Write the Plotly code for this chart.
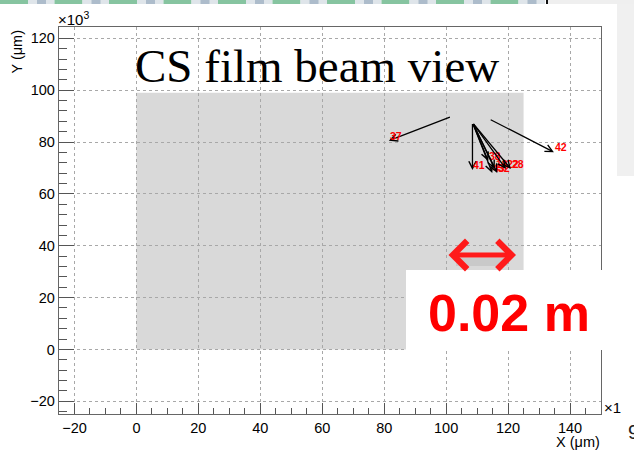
import plotly.graph_objects as go

# ---- data (x, y in units of 10^3 um) ----
x_ticks = [-20, 0, 20, 40, 60, 80, 100, 120, 140]
y_ticks = [-20, 0, 20, 40, 60, 80, 100, 120]

# CS film area
film_x = [0, 125]
film_y = [0, 99]

# track arrows: label, start x, start y, end x, end y
trk_label = ["37", "42", "41", "38", "43", "32", "18", "22", "28"]
trk_x0 = [101.7, 113.9, 108.5, 108.5, 108.5, 108.5, 108.5, 108.5, 108.5]
trk_y0 = [89.8, 88.9, 87.5, 87.5, 87.5, 87.5, 87.5, 87.5, 87.5]
trk_x1 = [81.5, 134.8, 108.5, 113.6, 114.9, 116.5, 115.7, 119.3, 120.9]
trk_y1 = [80.5, 76.1, 69.2, 72.7, 68.1, 68.1, 69.6, 69.6, 69.6]

scale_text = "0.02 m"

W, H = 634, 454
ML, MR, MT, MB = 59, 33, 27, 40
PW, PH = W - ML - MR, H - MT - MB


def px(x):
    return (x - ML) / PW


def py(y):
    return (H - MB - y) / PH


fig = go.Figure()

# invisible trace to set up the axes
fig.add_trace(go.Scatter(x=[film_x[0]], y=[film_y[0]], mode="markers",
                         marker=dict(opacity=0), hoverinfo="skip",
                         showlegend=False))

shapes = []
# film area (under the grid)
shapes.append(dict(type="rect", xref="x", yref="y", x0=film_x[0], x1=film_x[1],
                   y0=film_y[0], y1=film_y[1], fillcolor="#d9d9d9",
                   line=dict(width=0), layer="below"))

# slide decoration strip at the very top
for i in range(10):
    g0 = i * 54.5
    shapes.append(dict(type="rect", xref="paper", yref="paper",
                       x0=px(g0), x1=px(g0 + 28), y0=py(4), y1=py(0),
                       fillcolor="#86c4a0", line=dict(width=0)))
    shapes.append(dict(type="rect", xref="paper", yref="paper",
                       x0=px(g0 + 28), x1=px(g0 + 54.5), y0=py(4), y1=py(0),
                       fillcolor="#dfe5ea", line=dict(width=0)))
    shapes.append(dict(type="rect", xref="paper", yref="paper",
                       x0=px(g0 + 37), x1=px(g0 + 46), y0=py(4), y1=py(0),
                       fillcolor="#adbccb", line=dict(width=0)))
shapes.append(dict(type="rect", xref="paper", yref="paper",
                   x0=px(546), x1=px(548), y0=py(4), y1=py(0),
                   fillcolor="#111111", line=dict(width=0)))
shapes.append(dict(type="rect", xref="paper", yref="paper",
                   x0=px(548), x1=px(634), y0=py(4), y1=py(0),
                   fillcolor="#efefef", line=dict(width=0)))
# light panel at the right edge
shapes.append(dict(type="rect", xref="paper", yref="paper",
                   x0=px(617), x1=px(634), y0=py(176), y1=py(4),
                   fillcolor="#f0f0f0", line=dict(width=0)))
# white label box for the scale
shapes.append(dict(type="rect", xref="paper", yref="paper",
                   x0=px(406), x1=px(634), y0=py(350), y1=py(270),
                   fillcolor="white", line=dict(width=0), layer="above"))
# faint shadow under the scale arrow
shapes.append(dict(type="line", xref="paper", yref="paper",
                   x0=px(456), x1=px(508), y0=py(262), y1=py(262),
                   line=dict(color="rgba(0,0,0,0.07)", width=8),
                   layer="above"))

ann = []
# track arrows and their labels
for lab, x0, y0, x1, y1 in zip(trk_label, trk_x0, trk_y0, trk_x1, trk_y1):
    ann.append(dict(x=x1, y=y1, ax=x0, ay=y0, xref="x", yref="y",
                    axref="x", ayref="y", text="", showarrow=True,
                    arrowhead=5, arrowsize=1.1, arrowwidth=1.3,
                    arrowcolor="black"))
    ann.append(dict(x=x1, y=y1, xref="x", yref="y", text=lab,
                    showarrow=False, xanchor="left", yanchor="bottom",
                    yshift=-3, xshift=-1,
                    font=dict(family="Liberation Sans", size=10.5,
                              color="#ff0000", weight="bold")))

# double-headed scale arrow
ann.append(dict(x=px(516), y=py(255), ax=-(516 - 447), ay=0,
                xref="paper", yref="paper", axref="pixel", ayref="pixel",
                text="", showarrow=True, arrowside="end+start",
                arrowhead=4, startarrowhead=4, arrowsize=1.1,
                startarrowsize=1.1, arrowwidth=5, arrowcolor="#ff1a1a"))
ann.append(dict(x=px(508.5), y=py(312.5), xref="paper", yref="paper",
                text=scale_text, showarrow=False, xanchor="center",
                yanchor="middle",
                font=dict(family="Liberation Sans", size=52, color="#ff0000",
                          weight="bold")))

# title
ann.append(dict(x=px(317), y=py(94), xref="paper", yref="paper",
                text="CS film beam view", showarrow=False, xanchor="center",
                yanchor="bottom",
                font=dict(family="Liberation Serif", size=47, color="black")))

# axis multipliers and titles
ann.append(dict(x=px(56), y=py(30), xref="paper", yref="paper",
                text="×10<sup>3</sup>", showarrow=False, xanchor="left",
                yanchor="bottom",
                font=dict(family="Liberation Sans", size=15, color="black")))
ann.append(dict(x=px(602), y=py(418), xref="paper", yref="paper",
                text="×1", showarrow=False, xanchor="left", yanchor="bottom",
                font=dict(family="Liberation Sans", size=15, color="black")))
ann.append(dict(x=px(16), y=py(51.5), xref="paper", yref="paper",
                text="Y (μm)", textangle=-90, showarrow=False,
                xanchor="center", yanchor="middle",
                font=dict(family="Liberation Sans", size=14.5, color="black")))
ann.append(dict(x=px(602), y=py(441.5), xref="paper", yref="paper",
                text="X (μm)", showarrow=False, xanchor="right",
                yanchor="middle",
                font=dict(family="Liberation Sans", size=14.5, color="black")))
ann.append(dict(x=px(626), y=py(432), xref="paper", yref="paper",
                text="9", showarrow=False, xanchor="left", yanchor="middle",
                font=dict(family="Liberation Sans", size=20, color="#222222")))

axis_common = dict(showline=True, linecolor="#666666", linewidth=1.3,
                   mirror=True, ticks="inside", tickcolor="#555555",
                   tickwidth=1.2, showgrid=True, gridcolor="#a8a8a8",
                   griddash="dot", gridwidth=1, zeroline=False,
                   tickfont=dict(family="Liberation Sans", size=14.5,
                                 color="black"))

fig.update_layout(
    width=W, height=H, margin=dict(l=ML, r=MR, t=MT, b=MB),
    paper_bgcolor="white", plot_bgcolor="rgba(0,0,0,0)",
    showlegend=False, shapes=shapes, annotations=ann,
    xaxis=dict(range=[-25, 150], tickvals=x_ticks, ticklen=11,
               minor=dict(dtick=5, ticklen=5.5, ticks="inside",
                          tickcolor="#555555", showgrid=False),
               **axis_common),
    yaxis=dict(range=[-24.89, 124.36], tickvals=y_ticks, ticklen=15,
               minor=dict(dtick=4, ticklen=7.5, ticks="inside",
                          tickcolor="#555555", showgrid=False),
               **axis_common),
)

fig.write_html("out.html")
